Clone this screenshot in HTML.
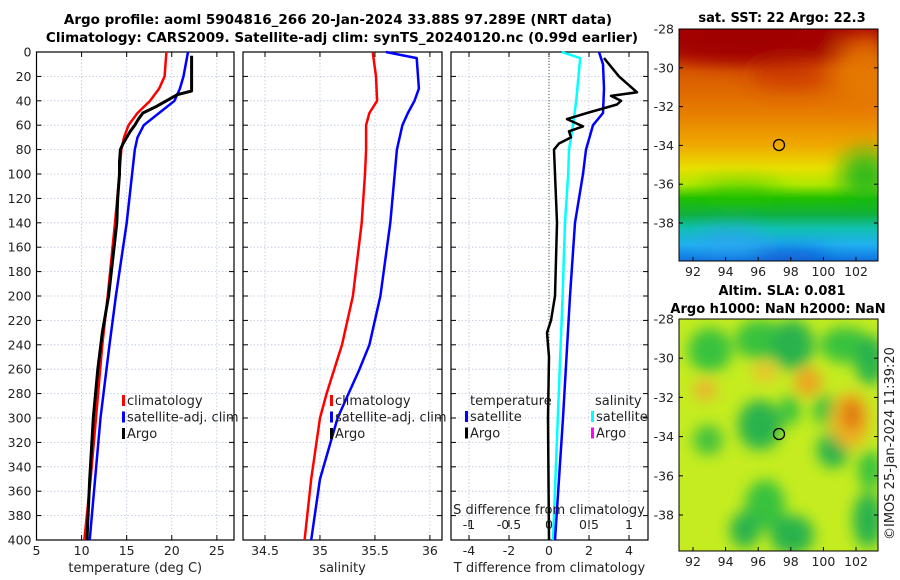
<!DOCTYPE html>
<html><head><meta charset="utf-8"><style>
body{margin:0;background:#fff;}
svg{display:block;font-family:"DejaVu Sans","Liberation Sans",sans-serif;}
</style></head><body>
<svg id="fig" width="900" height="580" xmlns="http://www.w3.org/2000/svg">
<defs>
<linearGradient id="sstg" x1="0" y1="0" x2="0" y2="1">
<stop offset="0" stop-color="#a80000"/><stop offset="0.1" stop-color="#b41800"/>
<stop offset="0.18" stop-color="#d85800"/><stop offset="0.35" stop-color="#e67a00"/>
<stop offset="0.5" stop-color="#f0a800"/><stop offset="0.6" stop-color="#e8e000"/>
<stop offset="0.67" stop-color="#b0e800"/><stop offset="0.73" stop-color="#20c000"/>
<stop offset="0.8" stop-color="#10b040"/><stop offset="0.86" stop-color="#10c0b0"/>
<stop offset="0.93" stop-color="#20b0f0"/><stop offset="1" stop-color="#1070e0"/>
</linearGradient>
<filter id="blur"><feGaussianBlur stdDeviation="7"/></filter>
<filter id="blur2"><feGaussianBlur stdDeviation="10"/></filter>
<clipPath id="c1"><rect x="679" y="29" width="199" height="232"/></clipPath>
<clipPath id="c2"><rect x="679" y="319" width="199" height="232"/></clipPath>
</defs>
<text x="338" y="24" text-anchor="middle" font-weight="bold" font-size="13.5">Argo profile: aoml 5904816_266 20-Jan-2024 33.88S 97.289E (NRT data)</text>
<text x="342" y="42" text-anchor="middle" font-weight="bold" font-size="13.5">Climatology: CARS2009. Satellite-adj clim: synTS_20240120.nc (0.99d earlier)</text>
<g id="panels"></g>
<g id="maps">
<g clip-path="url(#c1)">
<rect x="679" y="29" width="199" height="232" fill="url(#sstg)"/>
<g filter="url(#blur2)">
<ellipse cx="750" cy="40" rx="90" ry="22" fill="#a00000"/>
<ellipse cx="790" cy="75" rx="40" ry="14" fill="#c83000" opacity="0.7"/>
<ellipse cx="865" cy="70" rx="30" ry="35" fill="#e88000" opacity="0.8"/>
<ellipse cx="865" cy="175" rx="25" ry="25" fill="#10b020" opacity="0.8"/>
<ellipse cx="740" cy="192" rx="40" ry="10" fill="#20c000" opacity="0.6"/>
<ellipse cx="730" cy="240" rx="35" ry="12" fill="#30a0f0" opacity="0.7"/>
<ellipse cx="790" cy="258" rx="40" ry="8" fill="#1050d0" opacity="0.8"/>
</g>
</g>
<rect x="679" y="29" width="199" height="232" fill="none" stroke="#000"/>
<circle cx="779" cy="145" r="5.5" fill="none" stroke="#000" stroke-width="1.3"/>
<text x="782" y="22" text-anchor="middle" font-weight="bold" font-size="13">sat. SST: 22 Argo: 22.3</text>
<g clip-path="url(#c2)">
<rect x="679" y="319" width="199" height="232" fill="#c4ec20"/>
<g filter="url(#blur)" opacity="0.95">
<ellipse cx="710" cy="350" rx="22" ry="22" fill="#30c040"/>
<ellipse cx="760" cy="340" rx="25" ry="20" fill="#30c040"/>
<ellipse cx="792" cy="345" rx="22" ry="25" fill="#20b050"/>
<ellipse cx="845" cy="345" rx="25" ry="18" fill="#30c040"/>
<ellipse cx="870" cy="360" rx="15" ry="25" fill="#20b050"/>
<ellipse cx="760" cy="425" rx="22" ry="25" fill="#20b050"/>
<ellipse cx="790" cy="410" rx="10" ry="15" fill="#30c040"/>
<ellipse cx="708" cy="440" rx="15" ry="15" fill="#40c040"/>
<ellipse cx="825" cy="410" rx="12" ry="15" fill="#30c040"/>
<ellipse cx="833" cy="450" rx="16" ry="18" fill="#20b050"/>
<ellipse cx="870" cy="470" rx="12" ry="20" fill="#30c040"/>
<ellipse cx="765" cy="505" rx="20" ry="25" fill="#30c040"/>
<ellipse cx="745" cy="530" rx="15" ry="18" fill="#20b050"/>
<ellipse cx="792" cy="535" rx="22" ry="20" fill="#20b050"/>
<ellipse cx="868" cy="520" rx="15" ry="28" fill="#20b050"/>
<ellipse cx="850" cy="420" rx="20" ry="28" fill="#f0b020"/>
<ellipse cx="852" cy="415" rx="10" ry="16" fill="#e07010"/>
<ellipse cx="705" cy="390" rx="12" ry="10" fill="#f0b030"/>
<ellipse cx="808" cy="382" rx="14" ry="14" fill="#f0a020"/>
<ellipse cx="765" cy="372" rx="12" ry="10" fill="#f0c030"/>
</g>
</g>
<rect x="679" y="319" width="199" height="232" fill="none" stroke="#000"/>
<circle cx="779" cy="434" r="5.5" fill="none" stroke="#000" stroke-width="1.3"/>
<text x="782" y="295" text-anchor="middle" font-weight="bold" font-size="13">Altim. SLA: 0.081</text>
<text x="778" y="313" text-anchor="middle" font-weight="bold" font-size="13">Argo h1000: NaN h2000: NaN</text>
<text transform="translate(894,540) rotate(-90)" font-size="13" fill="#222">©IMOS 25-Jan-2024 11:39:20</text>
</g>
</svg>
<script>
const depthTicks=[0,20,40,60,80,100,120,140,160,180,200,220,240,260,280,300,320,340,360,380,400];
const tempTicks=[5,10,15,20,25];
const salTicks=[34.5,35,35.5,36];
const tdiffTicks=[-4,-2,0,2,4];
const sdiffTicks=[-1,-0.5,0,0.5,1];
const latTicks=[-28,-30,-32,-34,-36,-38];
const lonTicks=[92,94,96,98,100,102];

const tClimDepth=[0,20,30,40,50,60,70,80,100,140,200,240,300,350,400];
const tClim=[19.4,19.2,18.6,17.6,16.2,15.2,14.7,14.4,14.2,13.7,12.9,12.3,11.6,11.0,10.3];
const tSatDepth=[0,20,30,40,50,60,70,80,100,140,200,240,300,350,400];
const tSat=[21.8,21.3,20.9,20.3,18.6,16.9,16.2,15.9,15.6,15.0,13.8,13.1,12.1,11.5,10.9];
const tArgoDepth=[3,32,35,40,45,50,55,60,65,70,75,80,90,100,120,140,160,200,230,260,300,350,400];
const tArgo=[22.2,22.2,20.6,19.4,18.2,16.8,16.3,15.9,15.4,15.0,14.6,14.3,14.2,14.2,14.0,13.9,13.6,13.0,12.3,11.8,11.3,10.9,10.6];

const sClimDepth=[0,20,40,50,60,80,100,140,200,240,280,300,350,400];
const sClim=[35.48,35.51,35.52,35.45,35.42,35.42,35.41,35.38,35.3,35.2,35.06,35.0,34.92,34.86];
const sSatDepth=[0,5,30,40,50,60,80,100,140,200,240,260,300,350,400];
const sSat=[35.6,35.88,35.9,35.86,35.8,35.75,35.7,35.68,35.64,35.55,35.45,35.36,35.16,35.0,34.92];

const dtSatDepth=[0,10,30,50,60,80,100,140,200,300,350,400];
const dtSat=[2.5,2.7,2.75,2.7,2.2,1.85,1.7,1.3,1.05,0.7,0.5,0.3];
const dtArgoDepth=[5,20,33,36,40,43,50,55,61,65,70,75,80,100,140,200,220,230,250,300,400];
const dtArgo=[2.75,3.5,4.4,3.1,3.6,3.4,1.9,0.9,1.7,1.0,1.1,0.5,0.25,0.3,0.4,0.3,0.1,-0.1,0,-0.05,0];
const dsSatDepth=[0,5,40,60,80,100,140,200,300,400];
const dsSat=[0.16,0.39,0.34,0.3,0.25,0.24,0.2,0.17,0.11,0.05];

const NS='http://www.w3.org/2000/svg';
const root=document.getElementById('panels');
function mk(tag,attrs,parent){const e=document.createElementNS(NS,tag);for(const k in attrs)e.setAttribute(k,attrs[k]);(parent||root).appendChild(e);return e;}
const Y0=52,Y1=540;
const yD=d=>Y0+(Y1-Y0)*d/400;

function panel(x0,x1,xmin,xmax,ticks,name,label,showY){
  const xs=v=>x0+(x1-x0)*(v-xmin)/(xmax-xmin);
  const g=mk('g',{});
  
  
  ticks.forEach(t=>{mk('line',{x1:xs(t),x2:xs(t),y1:Y0,y2:Y1,stroke:'#b8c4dc','stroke-width':0.8,'stroke-dasharray':'1.5,2'},g);});
  depthTicks.forEach(d=>{if(d>0&&d<400)mk('line',{x1:x0,x2:x1,y1:yD(d),y2:yD(d),stroke:'#b8c4dc','stroke-width':0.8,'stroke-dasharray':'1.5,2'},g);});
  mk('rect',{x:x0,y:Y0,width:x1-x0,height:Y1-Y0,fill:'none',stroke:'#000','stroke-width':1.2},g);
  depthTicks.forEach(d=>{mk('line',{x1:x0,x2:x0+5,y1:yD(d),y2:yD(d),stroke:'#000'},g);mk('line',{x1:x1,x2:x1-5,y1:yD(d),y2:yD(d),stroke:'#000'},g);
    if(showY){const t=mk('text',{x:x0-5,y:yD(d)+4.5,'text-anchor':'end','font-size':12.5,fill:'#222'},g);t.textContent=d;}});
  ticks.forEach(t=>{mk('line',{x1:xs(t),x2:xs(t),y1:Y1,y2:Y1-5,stroke:'#000'},g);mk('line',{x1:xs(t),x2:xs(t),y1:Y0,y2:Y0+5,stroke:'#000'},g);
    const tx=mk('text',{x:xs(t),y:Y1+15,'text-anchor':'middle','font-size':12.5,fill:'#222'},g);tx.textContent=t;});
  const lb=mk('text',{x:(x0+x1)/2,y:Y1+32,'text-anchor':'middle','font-size':13,fill:'#222'},g);
  
  
  lb.textContent=label;
  return {g,xs};
}
function line(p,vals,depths,color,w,name){
  const pts=vals.map((v,i)=>p.xs(v).toFixed(1)+','+yD(depths[i]).toFixed(1)).join(' ');
  const l=mk('polyline',{points:pts,fill:'none',stroke:color,'stroke-width':w,'stroke-linejoin':'round'},p.g);
  
  
}
function legend(g,x,y,items){
  items.forEach((it,i)=>{
    if(it.c) mk('rect',{x:x,y:y+i*16.5-10,width:3,height:11,fill:it.c},g);
    const t=mk('text',{x:x+(it.c?5:0),y:y+i*16.5,'font-size':13,fill:'#222'},g);
    
    
    t.textContent=it.t;
  });
}
const p1=panel(36.5,234,5,26.9,tempTicks,'temperature','temperature (deg C)',true);
line(p1,tClim,tClimDepth,'#ff0000',2.5,'temperature-climatology-line');
line(p1,tSat,tSatDepth,'#0000ff',2.5,'temperature-satellite-line');
line(p1,tArgo,tArgoDepth,'#000',3,'temperature-argo-line');
legend(p1.g,122,405,[{c:'#f00',t:'climatology'},{c:'#00f',t:'satellite-adj. clim'},{c:'#000',t:'Argo'}]);

const p2=panel(243,442,34.3,36.11,salTicks,'salinity','salinity',false);
line(p2,sClim,sClimDepth,'#ff0000',2.5,'salinity-climatology-line');
line(p2,sSat,sSatDepth,'#0000ff',2.5,'salinity-satellite-line');
legend(p2.g,330,405,[{c:'#f00',t:'climatology'},{c:'#00f',t:'satellite-adj. clim'},{c:'#000',t:'Argo'}]);

const p3=panel(451,648,-4.9,4.95,tdiffTicks,'difference','T difference from climatology',false);
mk('line',{x1:p3.xs(0),x2:p3.xs(0),y1:Y0,y2:Y1,stroke:'#3a6a2a','stroke-width':1,'stroke-dasharray':'1,2'},p3.g);
const ps={g:p3.g,xs:v=>p3.xs(0)+80*v};
line(ps,dsSat,dsSatDepth,'#00ffff',2.5,'salinity-diff-satellite-line');
line(p3,dtSat,dtSatDepth,'#0000ff',2.5,'temperature-diff-satellite-line');
line(p3,dtArgo,dtArgoDepth,'#000',2.5,'temperature-diff-argo-line');
sdiffTicks.forEach(t=>{const x=ps.xs(t);mk('line',{x1:x,x2:x,y1:Y1-13,y2:Y1-20,stroke:'#000'},p3.g);
  const tx=mk('text',{x:x,y:Y1-11,'text-anchor':'middle','font-size':12.5,fill:'#222'},p3.g);tx.textContent=t;});
const st=mk('text',{x:549,y:Y1-26,'text-anchor':'middle','font-size':13,fill:'#222'},p3.g);


st.textContent='S difference from climatology';
legend(p3.g,470,405,[{t:'temperature'}]);
legend(p3.g,465,421,[{c:'#00f',t:'satellite'},{c:'#000',t:'Argo'}]);
legend(p3.g,595,405,[{t:'salinity'}]);
legend(p3.g,591,421,[{c:'#00ffff',t:'satellite'},{c:'#ff00ff',t:'Argo'}]);

const maps=document.getElementById('maps');
function mapAxes(top,bottom,latStep){
  const g=mk('g',{},maps);
  
  
  const ly=v=>top+(-28-v)*latStep;
  const lx=v=>693+(v-92)*16.3;
  latTicks.forEach(v=>{const y=ly(v);mk('line',{x1:679,x2:683,y1:y,y2:y,stroke:'#000'},g);mk('line',{x1:878,x2:874,y1:y,y2:y,stroke:'#000'},g);
    const t=mk('text',{x:674,y:y+4.5,'text-anchor':'end','font-size':12.5,fill:'#222'},g);t.textContent=v;});
  lonTicks.forEach(v=>{const x=lx(v);mk('line',{x1:x,x2:x,y1:bottom,y2:bottom-4,stroke:'#000'},g);
    const t=mk('text',{x:x,y:bottom+15,'text-anchor':'middle','font-size':12.5,fill:'#222'},g);t.textContent=v;});
}
mapAxes(29,261,19.4);
mapAxes(319,551,19.6);
</script>
</body></html>
